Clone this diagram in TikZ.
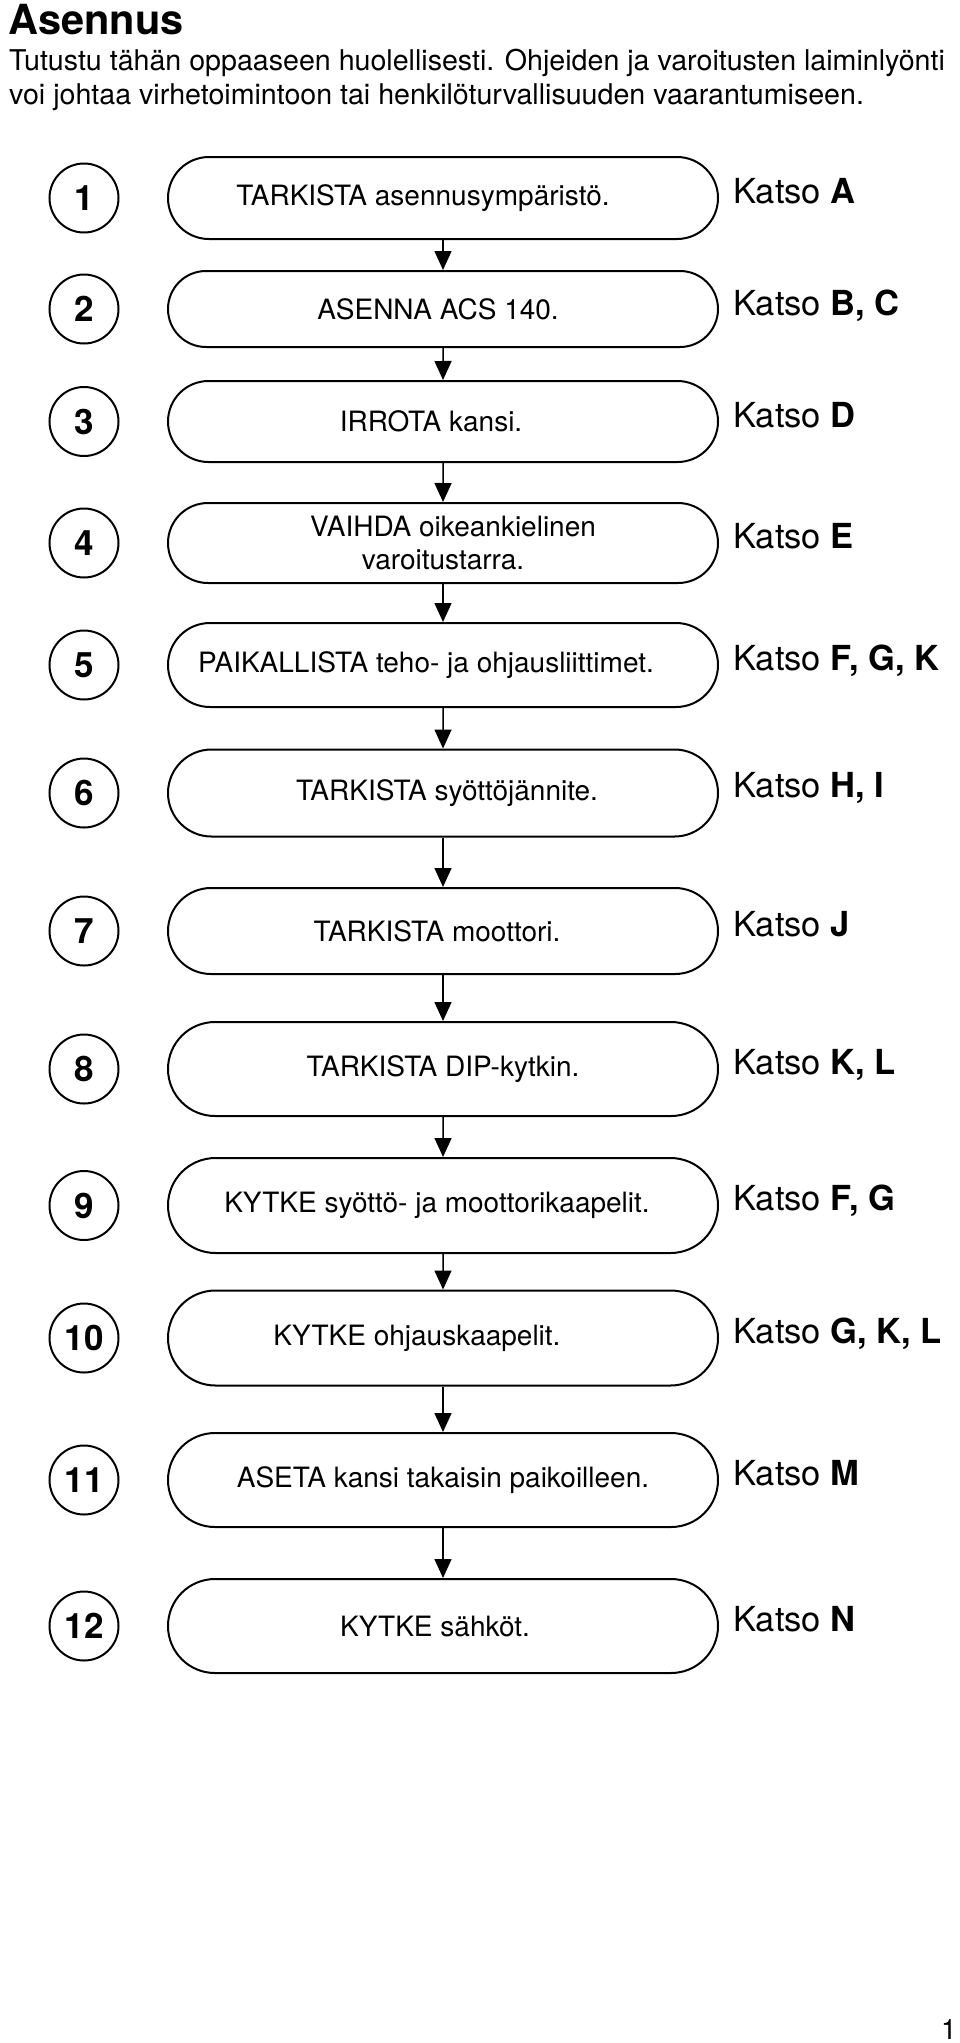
\documentclass[tikz,border=0pt]{standalone}
\usepackage{fontspec}
\setmainfont{TeX Gyre Heros}
\usepackage{tikz}
\usetikzlibrary{arrows.meta, shapes.misc}
\tikzstyle{stp}=[draw, shape=rounded rectangle, line width=2pt, minimum width=554pt, inner sep=2pt, align=center, font=\fontsize{28}{33}\selectfont]
\tikzstyle{num}=[draw, shape=circle, line width=2pt, minimum size=69pt, inner sep=0pt, font=\fontsize{35}{35}\selectfont\bfseries]
\tikzstyle{ref}=[anchor=base west, inner sep=0pt, font=\fontsize{34.5}{34.5}\selectfont]
\tikzset{>={Triangle[length=19pt, width=17pt]}}

\begin{document}
\begin{tikzpicture}[x=1pt, y=-1pt]
\useasboundingbox (0,0) rectangle (960,2043);

\node[anchor=base west, inner sep=0pt, font=\fontsize{41.5}{41.5}\selectfont\bfseries] (title) at (8,34) {Asennus};
\node[anchor=base west, inner sep=0pt, font=\fontsize{28.6}{34}\selectfont] (intro1) at (9,70) {Tutustu tähän oppaaseen huolellisesti. Ohjeiden ja varoitusten laiminlyönti};
\node[anchor=base west, inner sep=0pt, font=\fontsize{28.6}{34}\selectfont] (intro2) at (9,104) {voi johtaa virhetoimintoon tai henkilöturvallisuuden vaarantumiseen.};

\node[num] (n1) at (84,198) {1};
\node[num] (n2) at (84,309) {2};
\node[num] (n3) at (84,421.5) {3};
\node[num] (n4) at (84,543) {4};
\node[num] (n5) at (84,665) {5};
\node[num] (n6) at (84,793) {6};
\node[num] (n7) at (84,931) {7};
\node[num] (n8) at (84,1069) {8};
\node[num] (n9) at (84,1205.5) {9};
\node[num] (n10) at (84,1338) {10};
\node[num] (n11) at (84,1480) {11};
\node[num] (n12) at (84,1626) {12};

% text sits a little left of the box middle in most rows
\node[stp, minimum height=82pt] (s1) at (443,198) {TARKISTA asennusympäristö.\hspace*{40pt}};
\node[stp, minimum height=76pt] (s2) at (443,309) {ASENNA ACS 140.\hspace*{10pt}};
\node[stp, minimum height=81pt] (s3) at (443,421.5) {IRROTA kansi.\hspace*{24pt}};
\node[stp, minimum height=80pt] (s4) at (443,543) {\hspace*{20pt}VAIHDA oikeankielinen\\varoitustarra.};
\node[stp, minimum height=84pt] (s5) at (443,665) {PAIKALLISTA teho- ja ohjausliittimet.\hspace*{34pt}};
\node[stp, minimum height=87pt] (s6) at (443,793) {\hspace*{8pt}TARKISTA syöttöjännite.};
\node[stp, minimum height=86pt] (s7) at (443,931) {TARKISTA moottori.\hspace*{12pt}};
\node[stp, minimum height=94pt] (s8) at (443,1069) {TARKISTA DIP-kytkin.};
\node[stp, minimum height=95pt] (s9) at (443,1205.5) {KYTKE syöttö- ja moottorikaapelit.\hspace*{12pt}};
\node[stp, minimum height=95pt] (s10) at (443,1338) {KYTKE ohjauskaapelit.\hspace*{52pt}};
\node[stp, minimum height=94pt] (s11) at (443,1480) {ASETA kansi takaisin paikoilleen.};
\node[stp, minimum height=94pt] (s12) at (443,1626) {KYTKE sähköt.\hspace*{16pt}};

\node[ref] (k1) at (733,203) {Katso \textbf{A}};
\node[ref] (k2) at (733,315) {Katso \textbf{B, C}};
\node[ref] (k3) at (733,427) {Katso \textbf{D}};
\node[ref] (k4) at (733,548) {Katso \textbf{E}};
\node[ref] (k5) at (733,670.5) {Katso \textbf{F, G, K}};
\node[ref] (k6) at (733,797) {Katso \textbf{H, I}};
\node[ref] (k7) at (733,936) {Katso \textbf{J}};
\node[ref] (k8) at (733,1074) {Katso \textbf{K, L}};
\node[ref] (k9) at (733,1210) {Katso \textbf{F, G}};
\node[ref] (k10) at (733,1343) {Katso \textbf{G, K, L}};
\node[ref] (k11) at (733,1485) {Katso \textbf{M}};
\node[ref] (k12) at (733,1631) {Katso \textbf{N}};

\node[anchor=base east, inner sep=0pt, font=\fontsize{28}{28}\selectfont] (page) at (957,2039) {1};

\draw[->, line width=1.5pt] (s1) -- (s2);
\draw[->, line width=1.5pt] (s2) -- (s3);
\draw[->, line width=1.5pt] (s3) -- (s4);
\draw[->, line width=1.5pt] (s4) -- (s5);
\draw[->, line width=1.5pt] (s5) -- (s6);
\draw[->, line width=1.5pt] (s6) -- (s7);
\draw[->, line width=1.5pt] (s7) -- (s8);
\draw[->, line width=1.5pt] (s8) -- (s9);
\draw[->, line width=1.5pt] (s9) -- (s10);
\draw[->, line width=1.5pt] (s10) -- (s11);
\draw[->, line width=1.5pt] (s11) -- (s12);
\end{tikzpicture}
\end{document}
